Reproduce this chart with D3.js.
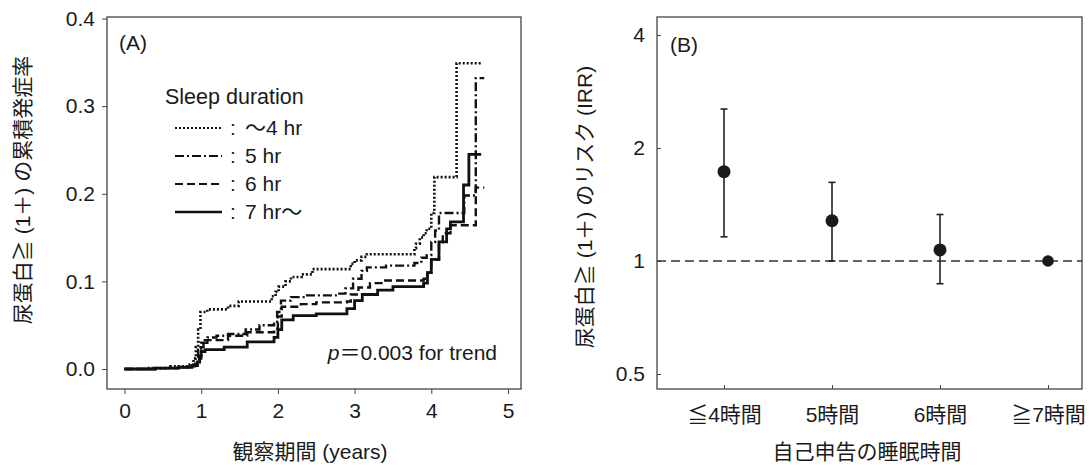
<!DOCTYPE html>
<html>
<head>
<meta charset="utf-8">
<script src="https://cdn.jsdelivr.net/npm/d3@7"></script>
<style>
  body { margin: 0; background: #fff; }
  text { font-family: "Liberation Sans", "Noto Sans CJK JP", sans-serif; fill: #1a1a1a; }
</style>
</head>
<body>
<div id="chart"></div>
<script>
// ---- data ----
// panel A: cumulative incidence step curves, years vs rate
const t4 = [0, 0.3, 0.6, 0.85, 0.9, 0.93, 0.96, 0.99, 1.08, 1.35, 1.49, 1.92, 1.97, 2.01, 2.1, 2.17, 2.31, 2.45, 2.95, 3.0, 3.09, 3.16, 3.78, 3.8, 3.85, 3.9, 3.94, 4.0, 4.04, 4.33, 4.65];
const v4 = [0, 0.001, 0.003, 0.005, 0.012, 0.025, 0.045, 0.065, 0.068, 0.072, 0.077, 0.083, 0.088, 0.094, 0.1, 0.105, 0.108, 0.114, 0.12, 0.124, 0.128, 0.131, 0.138, 0.143, 0.15, 0.155, 0.16, 0.178, 0.219, 0.349, 0.349];

const t5 = [0, 0.4, 0.7, 0.85, 0.92, 0.96, 0.99, 1.08, 1.2, 1.35, 1.58, 1.76, 1.95, 1.99, 2.04, 2.17, 2.36, 2.77, 2.88, 2.98, 3.09, 3.16, 3.41, 3.78, 3.87, 3.94, 4.0, 4.05, 4.1, 4.43, 4.58, 4.69];
const v5 = [0, 0.001, 0.002, 0.003, 0.012, 0.022, 0.03, 0.036, 0.038, 0.04, 0.045, 0.05, 0.054, 0.065, 0.078, 0.082, 0.084, 0.086, 0.092, 0.103, 0.112, 0.116, 0.118, 0.121, 0.127, 0.13, 0.145, 0.158, 0.178, 0.198, 0.332, 0.332];

const t6 = [0, 0.4, 0.7, 0.88, 0.95, 1.0, 1.03, 1.35, 1.6, 1.95, 2.0, 2.05, 2.3, 2.5, 2.9, 2.95, 3.05, 3.2, 3.4, 3.9, 3.95, 4.0, 4.1, 4.15, 4.25, 4.58, 4.69];
const v6 = [0, 0.001, 0.002, 0.004, 0.012, 0.025, 0.033, 0.038, 0.042, 0.046, 0.06, 0.071, 0.074, 0.076, 0.077, 0.085, 0.093, 0.098, 0.101, 0.103, 0.11, 0.125, 0.145, 0.155, 0.164, 0.207, 0.207];

const t7 = [0, 0.4, 0.7, 0.88, 0.95, 0.98, 1.0, 1.05, 1.3, 1.6, 1.95, 2.0, 2.05, 2.2, 2.5, 2.9, 3.0, 3.1, 3.3, 3.5, 3.9, 3.95, 4.0, 4.1, 4.2, 4.25, 4.42, 4.49, 4.65];
const v7 = [0, 0.001, 0.002, 0.004, 0.008, 0.015, 0.02, 0.022, 0.025, 0.031, 0.036, 0.045, 0.056, 0.061, 0.063, 0.069, 0.078, 0.085, 0.09, 0.094, 0.098, 0.11, 0.125, 0.145, 0.16, 0.168, 0.21, 0.245, 0.245];

const legendLabels = ["～4 hr", "5 hr", "6 hr", "7 hr～"];
const xTicksA = [0, 1, 2, 3, 4, 5];
const yTicksA = [0, 0.1, 0.2, 0.3, 0.4];

// panel B: incidence rate ratio with 95% CI
const groups = ["≦4時間", "5時間", "6時間", "≧7時間"];
const irr = [1.73, 1.28, 1.07, 1.0];
const ciLow = [1.16, 1.0, 0.87, null];
const ciHigh = [2.54, 1.62, 1.33, null];
const yTicksB = [0.5, 1, 2, 4];

// ---- drawing ----
const svg = d3.select("#chart").append("svg")
  .attr("width", 1089).attr("height", 465);

const fs = 21;

// ===== Panel A =====
const xA = d3.scaleLinear().domain([0, 5]).range([124.5, 508]);
const yA = d3.scaleLinear().domain([0, 0.4]).range([369, 18.5]);
const boxA = { x: 107, y: 17, w: 414, h: 372 };

const gA = svg.append("g");

gA.append("rect")
  .attr("x", boxA.x).attr("y", boxA.y)
  .attr("width", boxA.w).attr("height", boxA.h)
  .attr("fill", "none").attr("stroke", "#444").attr("stroke-width", 1.3);

// y axis (ticks outward)
const yAxisA = gA.append("g")
  .attr("transform", `translate(${boxA.x},0)`)
  .call(d3.axisLeft(yA).tickValues(yTicksA).tickFormat(d3.format(".1f")).tickSize(5).tickPadding(7));
yAxisA.select(".domain").remove();
yAxisA.selectAll("line").attr("stroke", "#444");
yAxisA.selectAll("text").style("font-size", fs + "px");

// x axis
const xAxisA = gA.append("g")
  .attr("transform", `translate(0,${boxA.y + boxA.h})`)
  .call(d3.axisBottom(xA).tickValues(xTicksA).tickFormat(d3.format("d")).tickSize(5).tickPadding(9));
xAxisA.select(".domain").remove();
xAxisA.selectAll("line").attr("stroke", "#444");
xAxisA.selectAll("text").style("font-size", fs + "px");

const series = [
  { t: t4, v: v4, dash: "2,2", w: 2.6 },
  { t: t5, v: v5, dash: "9,3,2,3", w: 2.4 },
  { t: t6, v: v6, dash: "8,4", w: 2.4 },
  { t: t7, v: v7, dash: null, w: 2.8 }
];

const line = d3.line()
  .x(d => xA(d[0]))
  .y(d => yA(d[1]))
  .curve(d3.curveStepAfter);

series.forEach(s => {
  const pts = s.t.map((t, i) => [t, s.v[i]]);
  gA.append("path")
    .attr("d", line(pts))
    .attr("fill", "none")
    .attr("stroke", "#111")
    .attr("stroke-width", s.w)
    .attr("stroke-dasharray", s.dash);
});

gA.append("text").attr("x", 119).attr("y", 50)
  .style("font-size", fs + "px").text("(A)");

// legend
const leg = gA.append("g");
leg.append("text").attr("x", 165).attr("y", 104)
  .style("font-size", "21.5px").text("Sleep duration");
legendLabels.forEach((lab, i) => {
  const y = 128 + i * 28;
  leg.append("line")
    .attr("x1", 175).attr("x2", 222).attr("y1", y).attr("y2", y)
    .attr("stroke", "#111").attr("stroke-width", series[i].w - 0.4)
    .attr("stroke-dasharray", series[i].dash);
  leg.append("text").attr("x", 233).attr("y", y + 7)
    .attr("text-anchor", "middle").style("font-size", "21px").text(":");
  leg.append("text").attr("x", 245).attr("y", y + 7)
    .style("font-size", "21px").text(lab);
});

const pText = gA.append("text").attr("x", 497).attr("y", 360)
  .attr("text-anchor", "end").style("font-size", fs + "px");
pText.append("tspan").style("font-style", "italic").text("p");
pText.append("tspan").text("＝0.003 for trend");

// axis titles
gA.append("text")
  .attr("x", 310).attr("y", 459)
  .attr("text-anchor", "middle").style("font-size", fs + "px")
  .text("観察期間 (years)");

gA.append("text")
  .attr("transform", "translate(30,190) rotate(-90)")
  .attr("text-anchor", "middle").style("font-size", fs + "px")
  .text("尿蛋白≧ (1＋) の累積発症率");

// ===== Panel B =====
const boxB = { x: 657, y: 17, w: 425, h: 372 };
const xB = d3.scaleLinear().domain([1, 4]).range([724, 1048]);
const yB = d3.scaleLog().domain([0.5, 4]).range([374, 35]);

const gB = svg.append("g");

gB.append("rect")
  .attr("x", boxB.x).attr("y", boxB.y)
  .attr("width", boxB.w).attr("height", boxB.h)
  .attr("fill", "none").attr("stroke", "#444").attr("stroke-width", 1.3);

// y axis (ticks inward)
const yAxisB = gB.append("g")
  .attr("transform", `translate(${boxB.x},0)`)
  .call(d3.axisLeft(yB).tickValues(yTicksB).tickFormat(d => d).tickSize(-4).tickPadding(12));
yAxisB.select(".domain").remove();
yAxisB.selectAll("line").attr("stroke", "#444");
yAxisB.selectAll("text").style("font-size", fs + "px");

// x axis (ticks inward)
const xAxisB = gB.append("g")
  .attr("transform", `translate(0,${boxB.y + boxB.h})`)
  .call(d3.axisBottom(xB).tickValues([1, 2, 3, 4]).tickFormat((d, i) => groups[i]).tickSize(-4).tickPadding(18));
xAxisB.select(".domain").remove();
xAxisB.selectAll("line").attr("stroke", "#444");
xAxisB.selectAll("text").style("font-size", fs + "px");

// reference line at IRR = 1
gB.append("line")
  .attr("x1", boxB.x).attr("x2", boxB.x + boxB.w)
  .attr("y1", yB(1)).attr("y2", yB(1))
  .attr("stroke", "#333").attr("stroke-width", 1.4)
  .attr("stroke-dasharray", "9,5");

// error bars
groups.forEach((g, i) => {
  if (ciLow[i] == null) return;
  const x = xB(i + 1);
  gB.append("line")
    .attr("x1", x).attr("x2", x)
    .attr("y1", yB(ciLow[i])).attr("y2", yB(ciHigh[i]))
    .attr("stroke", "#222").attr("stroke-width", 1.6);
  [ciLow[i], ciHigh[i]].forEach(v => {
    gB.append("line")
      .attr("x1", x - 3.5).attr("x2", x + 3.5)
      .attr("y1", yB(v)).attr("y2", yB(v))
      .attr("stroke", "#222").attr("stroke-width", 1.6);
  });
});

gB.selectAll(".dot")
  .data(irr)
  .enter()
  .append("circle")
  .attr("class", "dot")
  .attr("cx", (d, i) => xB(i + 1))
  .attr("cy", d => yB(d))
  .attr("r", (d, i) => i === 3 ? 5.8 : 6.5)
  .attr("fill", "#1a1a1a");

gB.append("text").attr("x", 670).attr("y", 52)
  .style("font-size", fs + "px").text("(B)");

gB.append("text")
  .attr("x", 867).attr("y", 459)
  .attr("text-anchor", "middle").style("font-size", fs + "px")
  .text("自己申告の睡眠時間");

gB.append("text")
  .attr("transform", "translate(592,207) rotate(-90)")
  .attr("text-anchor", "middle").style("font-size", fs + "px")
  .text("尿蛋白≧ (1＋) のリスク (IRR)");
</script>
</body>
</html>
